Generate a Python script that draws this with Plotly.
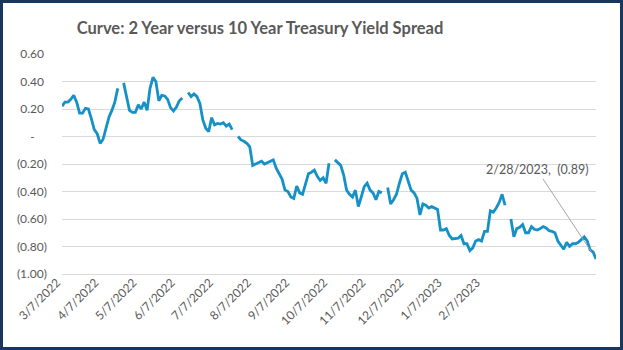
import plotly.graph_objects as go

# ---- data ----
title_text = "Curve: 2 Year versus 10 Year Treasury Yield Spread"

tick_labels = ["3/7/2022", "4/7/2022", "5/7/2022", "6/7/2022", "7/7/2022", "8/7/2022",
               "9/7/2022", "10/7/2022", "11/7/2022", "12/7/2022", "1/7/2023", "2/7/2023"]

spread = [
    0.22, 0.25, 0.25, 0.27, 0.30, 0.25, 0.17, 0.17, 0.205, 0.20,
    0.13, 0.05, 0.02, -0.05, -0.02, 0.07, 0.14, 0.19, 0.25, 0.35,
    None, 0.39, 0.29, 0.19, 0.175, 0.175, 0.23, 0.20, 0.25, 0.19,
    0.35, 0.43, 0.40, 0.26, 0.30, 0.295, 0.27, 0.21, 0.185, 0.215,
    0.26, 0.28, None, 0.32, 0.29, 0.31, 0.29, 0.24, 0.12, 0.06,
    0.035, 0.137, 0.085, 0.095, 0.09, 0.10, 0.075, 0.09, 0.05, None,
    0.0, -0.025, -0.035, -0.05, -0.075, -0.21, -0.20, -0.19, -0.18, -0.20,
    -0.19, -0.18, -0.17, -0.23, -0.27, -0.31, -0.39, -0.40, -0.44, -0.45,
    -0.36, -0.41, -0.42, -0.35, -0.27, -0.26, -0.245, -0.29, -0.32, -0.30,
    -0.34, -0.195, None, -0.17, -0.19, -0.21, -0.28, -0.39, -0.42, -0.44,
    -0.39, -0.51, -0.44, -0.365, -0.34, -0.39, -0.41, -0.46, -0.40, -0.41,
    None, -0.37, -0.49, -0.46, -0.42, -0.34, -0.27, -0.26, -0.32, -0.39,
    -0.41, -0.45, -0.57, -0.49, -0.50, -0.52, -0.51, -0.52, -0.53, -0.68,
    -0.68, -0.67, -0.72, -0.745, -0.74, -0.74, -0.72, -0.78, -0.78, -0.83,
    -0.81, -0.76, -0.75, -0.76, -0.69, -0.69, -0.54, -0.55, -0.52, -0.48,
    -0.42, -0.50, None, -0.60, -0.73, -0.67, -0.66, -0.64, -0.70, -0.70,
    -0.655, -0.675, -0.68, -0.67, -0.655, -0.665, -0.685, -0.69, -0.70, -0.76,
    -0.79, -0.82, -0.77, -0.80, -0.78, -0.78, -0.77, -0.75, -0.73, -0.76,
    -0.825, -0.84, -0.89,
]

last_date = "2/28/2023"
y_ticks = [0.60, 0.40, 0.20, 0.0, -0.20, -0.40, -0.60, -0.80, -1.00]

# ---- helpers ----
NB = "\u00a0"


def fmt(v):
    if abs(v) < 1e-9:
        return "-" + NB * 4
    if v < 0:
        return "(%.2f)" % abs(v)
    return "%.2f" % v + NB


x_idx = list(range(len(spread)))
label_step = 13
tick_pos = [i * label_step for i in range(len(tick_labels))]

W, H = 623, 350
L, R, T, B = 62, 27, 54, 76
pw, ph = W - L - R, H - T - B

grey = "#595959"
font_family = "Lato, 'Open Sans', sans-serif"

fig = go.Figure()
fig.add_trace(go.Scatter(
    x=x_idx, y=spread, mode="lines",
    line=dict(color="#1591C6", width=2.8),
    connectgaps=False, hoverinfo="skip", showlegend=False,
))

last_val = spread[-1]
fig.add_annotation(
    x=x_idx[-1], y=last_val, xref="x", yref="y",
    text=last_date + "," + NB + NB + fmt(last_val).strip(NB),
    showarrow=True, arrowhead=0, arrowwidth=1, arrowcolor="#A6A6A6",
    ax=-59, ay=-89, standoff=9,
    font=dict(family=font_family, size=12.5, color=grey),
)

# outer navy frame
fig.add_shape(
    type="rect", xref="paper", yref="paper",
    x0=(1.5 - L) / pw, x1=(W - 1.5 - L) / pw,
    y0=-(B - 1.5) / ph, y1=1 + (T - 1.5) / ph,
    line=dict(color="#17375E", width=3), fillcolor="rgba(0,0,0,0)", layer="above",
)

fig.update_layout(
    width=W, height=H,
    margin=dict(l=L, r=R, t=T, b=B, pad=0),
    paper_bgcolor="white", plot_bgcolor="white",
    title=dict(text="<b>" + title_text + "</b>", x=260 / W, xanchor="center",
               y=1 - 28 / H, yanchor="middle",
               font=dict(family=font_family, size=16.5, color=grey)),
    font=dict(family=font_family, size=12, color=grey),
    xaxis=dict(
        range=[0, len(spread) - 1], tickmode="array", tickvals=tick_pos,
        ticktext=tick_labels, tickangle=-45, showgrid=False, zeroline=False,
        showline=True, linecolor="#D9D9D9", linewidth=1, ticks="",
        ticklabelshift=-5, ticklabelstandoff=-4,
        tickfont=dict(family=font_family, size=12, color=grey),
    ),
    yaxis=dict(
        range=[-1.0, 0.6], tickmode="array", tickvals=y_ticks,
        ticktext=[fmt(v) for v in y_ticks], showgrid=True, gridcolor="#D9D9D9",
        gridwidth=1, zeroline=False, showline=False, ticks="",
        ticklabelstandoff=14,
        tickfont=dict(family=font_family, size=12, color=grey),
    ),
)

fig.write_html("out.html")
